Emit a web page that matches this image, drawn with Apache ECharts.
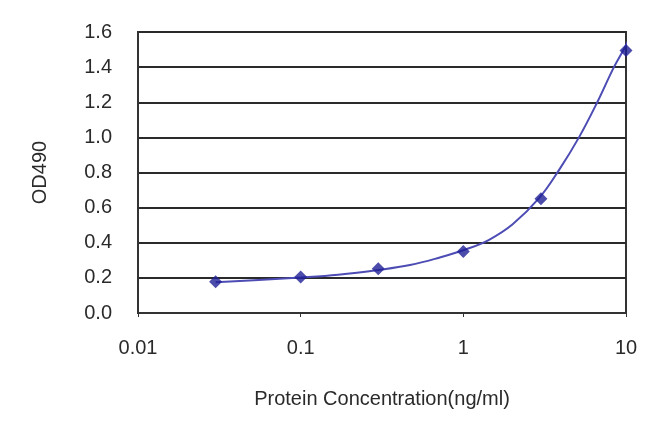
<!DOCTYPE html>
<html>
<head>
<meta charset="utf-8">
<script src="https://cdn.jsdelivr.net/npm/echarts@6/dist/echarts.min.js"></script>
<style>html,body{margin:0;padding:0;background:#fff}#c{width:650px;height:433px}</style>
</head>
<body>
<div id="c"></div>
<script>
// Measured points
var concentrations = [0.03, 0.1, 0.3, 1, 3, 10];
var odValues = [0.178, 0.205, 0.252, 0.350, 0.650, 1.494];
// Fitted curve
var curveX = [0.03, 0.055, 0.1, 0.17, 0.3, 0.47, 0.71, 1.02, 1.44, 2.01, 2.93, 3.88, 5.14, 6.66, 8.43, 10, 10.66];
var curveY = [0.175, 0.188, 0.202, 0.218, 0.245, 0.273, 0.315, 0.360, 0.417, 0.505, 0.655, 0.815, 1.000, 1.200, 1.400, 1.525, 1.585];
var xTickLabels = ['0.01', '0.1', '1', '10'];
var yTicks = [0, 0.2, 0.4, 0.6, 0.8, 1.0, 1.2, 1.4, 1.6];

var chart = echarts.init(document.getElementById('c'), null, {renderer: 'canvas'});
var font = 'Liberation Sans, Arial, sans-serif';
chart.setOption({
  animation: false,
  grid: {left: 138, right: 24, top: 32, bottom: 120, show: true, borderColor: '#333', borderWidth: 2, backgroundColor: '#fff'},
  xAxis: {
    type: 'log', logBase: 10, min: 0.01, max: 10,
    name: 'Protein Concentration(ng/ml)', nameLocation: 'middle', nameGap: 76,
    nameTextStyle: {fontFamily: font, fontSize: 20, color: '#2a2a2a'},
    axisLine: {show: true, lineStyle: {color: '#333', width: 2}},
    axisTick: {show: true, inside: false, length: 4, lineStyle: {color: '#333'}},
    axisLabel: {fontFamily: font, fontSize: 20, color: '#2a2a2a', margin: 25,
      formatter: function (v) {
        var i = Math.round(Math.log10(v)) + 2;
        return xTickLabels[i] !== undefined ? xTickLabels[i] : '';
      }},
    splitLine: {show: false}
  },
  yAxis: {
    type: 'value', min: yTicks[0], max: yTicks[yTicks.length - 1], interval: 0.2,
    name: 'OD490', nameLocation: 'middle', nameGap: 88, nameRotate: 90,
    nameTextStyle: {fontFamily: font, fontSize: 20, color: '#2a2a2a'},
    axisLine: {show: true, lineStyle: {color: '#333', width: 2}},
    axisTick: {show: false},
    axisLabel: {fontFamily: font, fontSize: 20, color: '#2a2a2a', margin: 26,
      formatter: function (v) { return v.toFixed(1); }},
    splitLine: {show: true, lineStyle: {color: '#2a2a2a', width: 2}}
  },
  series: [
    {
      type: 'line', smooth: 0.4, clip: false, showSymbol: false, symbol: 'none',
      data: curveX.map(function (x, i) { return [x, curveY[i]]; }),
      lineStyle: {color: '#4c4cb4', width: 2}, z: 2
    },
    {
      type: 'scatter', symbol: 'diamond', symbolSize: 13, clip: false,
      data: concentrations.map(function (x, i) { return [x, odValues[i]]; }),
      itemStyle: {color: '#1f1f96'}, z: 3
    }
  ]
});
</script>
</body>
</html>
